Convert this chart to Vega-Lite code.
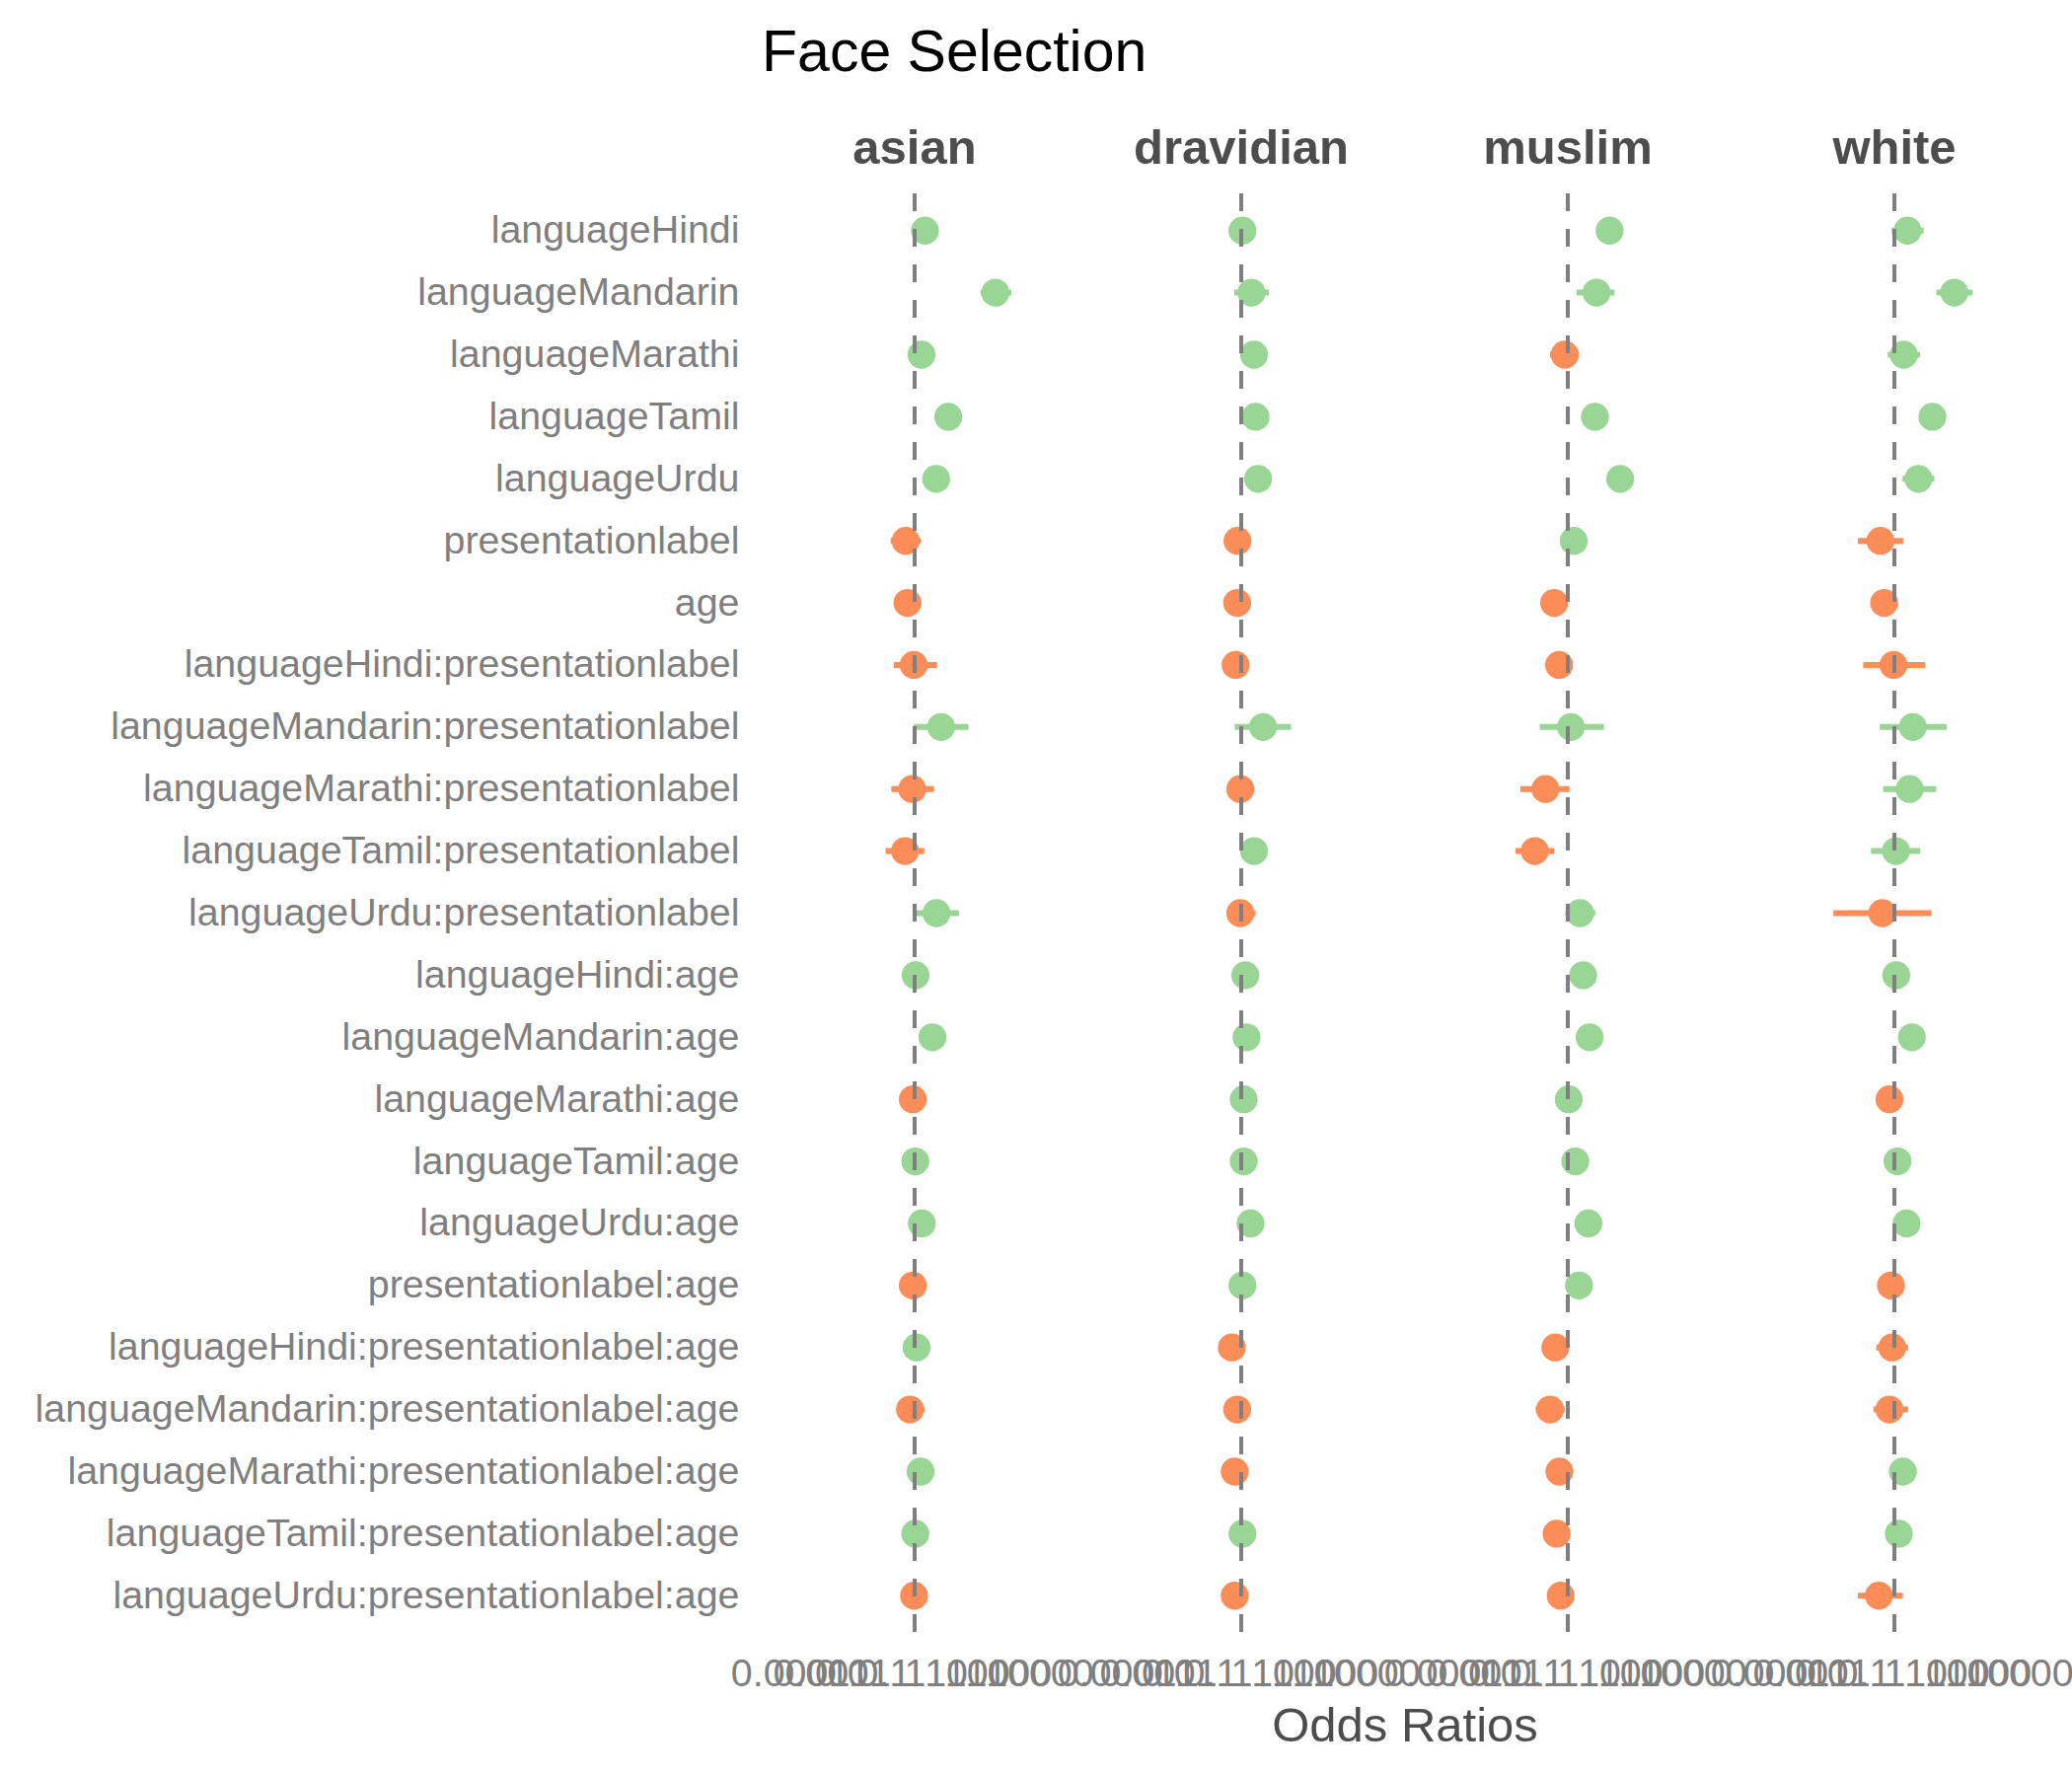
{
  "$schema": "https://vega.github.io/schema/vega-lite/v6.json",
  "background": "white",
  "padding": {"left": 35, "top": 25, "right": 0, "bottom": 0},
  "config": {"font": "Liberation Sans", "view": {"stroke": null}},
  "title": {"text": "Face Selection", "anchor": "start", "fontSize": 59, "fontWeight": "normal", "color": "#000000", "font": "Liberation Sans", "dx": 737, "offset": 43},
  "data": {"values": [
    {"g":"asian","term":"languageHindi","or":2.138,"lo":1.349,"hi":3.388},
    {"g":"asian","term":"languageMandarin","or":389.0,"lo":131.8,"hi":1259},
    {"g":"asian","term":"languageMarathi","or":1.660,"lo":1.047,"hi":2.630},
    {"g":"asian","term":"languageTamil","or":12.02,"lo":7.586,"hi":19.05},
    {"g":"asian","term":"languageUrdu","or":4.898,"lo":3.090,"hi":7.762},
    {"g":"asian","term":"presentationlabel","or":0.513,"lo":0.170,"hi":1.549},
    {"g":"asian","term":"age","or":0.589,"lo":0.372,"hi":0.933},
    {"g":"asian","term":"languageHindi:presentationlabel","or":0.933,"lo":0.214,"hi":5.248},
    {"g":"asian","term":"languageMandarin:presentationlabel","or":7.079,"lo":0.933,"hi":53.70},
    {"g":"asian","term":"languageMarathi:presentationlabel","or":0.832,"lo":0.178,"hi":4.169},
    {"g":"asian","term":"languageTamil:presentationlabel","or":0.490,"lo":0.117,"hi":2.042},
    {"g":"asian","term":"languageUrdu:presentationlabel","or":5.012,"lo":1.072,"hi":26.30},
    {"g":"asian","term":"languageHindi:age","or":1.072,"lo":0.676,"hi":1.698},
    {"g":"asian","term":"languageMandarin:age","or":3.715,"lo":2.344,"hi":5.888},
    {"g":"asian","term":"languageMarathi:age","or":0.871,"lo":0.550,"hi":1.380},
    {"g":"asian","term":"languageTamil:age","or":1.047,"lo":0.661,"hi":1.660},
    {"g":"asian","term":"languageUrdu:age","or":1.698,"lo":1.072,"hi":2.692},
    {"g":"asian","term":"presentationlabel:age","or":0.871,"lo":0.550,"hi":1.380},
    {"g":"asian","term":"languageHindi:presentationlabel:age","or":1.148,"lo":0.724,"hi":1.820},
    {"g":"asian","term":"languageMandarin:presentationlabel:age","or":0.708,"lo":0.295,"hi":2.089},
    {"g":"asian","term":"languageMarathi:presentationlabel:age","or":1.549,"lo":0.977,"hi":2.455},
    {"g":"asian","term":"languageTamil:presentationlabel:age","or":1.047,"lo":0.661,"hi":1.660},
    {"g":"asian","term":"languageUrdu:presentationlabel:age","or":0.955,"lo":0.603,"hi":1.514},

    {"g":"dravidian","term":"languageHindi","or":1.096,"lo":0.692,"hi":1.738},
    {"g":"dravidian","term":"languageMandarin","or":2.138,"lo":0.603,"hi":7.762},
    {"g":"dravidian","term":"languageMarathi","or":2.570,"lo":1.622,"hi":4.074},
    {"g":"dravidian","term":"languageTamil","or":2.884,"lo":1.820,"hi":4.571},
    {"g":"dravidian","term":"languageUrdu","or":3.467,"lo":2.188,"hi":5.495},
    {"g":"dravidian","term":"presentationlabel","or":0.759,"lo":0.479,"hi":1.202},
    {"g":"dravidian","term":"age","or":0.741,"lo":0.468,"hi":1.175},
    {"g":"dravidian","term":"languageHindi:presentationlabel","or":0.661,"lo":0.417,"hi":1.047},
    {"g":"dravidian","term":"languageMandarin:presentationlabel","or":5.012,"lo":0.617,"hi":39.81},
    {"g":"dravidian","term":"languageMarathi:presentationlabel","or":0.933,"lo":0.589,"hi":1.479},
    {"g":"dravidian","term":"languageTamil:presentationlabel","or":2.570,"lo":1.622,"hi":4.074},
    {"g":"dravidian","term":"languageUrdu:presentationlabel","or":0.933,"lo":0.347,"hi":2.884},
    {"g":"dravidian","term":"languageHindi:age","or":1.349,"lo":0.851,"hi":2.138},
    {"g":"dravidian","term":"languageMandarin:age","or":1.479,"lo":0.933,"hi":2.344},
    {"g":"dravidian","term":"languageMarathi:age","or":1.202,"lo":0.759,"hi":1.905},
    {"g":"dravidian","term":"languageTamil:age","or":1.202,"lo":0.759,"hi":1.905},
    {"g":"dravidian","term":"languageUrdu:age","or":1.995,"lo":1.259,"hi":3.162},
    {"g":"dravidian","term":"presentationlabel:age","or":1.096,"lo":0.692,"hi":1.738},
    {"g":"dravidian","term":"languageHindi:presentationlabel:age","or":0.501,"lo":0.316,"hi":0.794},
    {"g":"dravidian","term":"languageMandarin:presentationlabel:age","or":0.741,"lo":0.468,"hi":1.175},
    {"g":"dravidian","term":"languageMarathi:presentationlabel:age","or":0.617,"lo":0.389,"hi":0.977},
    {"g":"dravidian","term":"languageTamil:presentationlabel:age","or":1.096,"lo":0.692,"hi":1.738},
    {"g":"dravidian","term":"languageUrdu:presentationlabel:age","or":0.617,"lo":0.389,"hi":0.977},

    {"g":"muslim","term":"languageHindi","or":21.88,"lo":13.80,"hi":34.67},
    {"g":"muslim","term":"languageMandarin","or":8.318,"lo":1.905,"hi":31.62},
    {"g":"muslim","term":"languageMarathi","or":0.794,"lo":0.269,"hi":2.291},
    {"g":"muslim","term":"languageTamil","or":7.413,"lo":4.677,"hi":11.75},
    {"g":"muslim","term":"languageUrdu","or":47.86,"lo":30.20,"hi":75.86},
    {"g":"muslim","term":"presentationlabel","or":1.549,"lo":0.977,"hi":2.455},
    {"g":"muslim","term":"age","or":0.363,"lo":0.229,"hi":0.575},
    {"g":"muslim","term":"languageHindi:presentationlabel","or":0.525,"lo":0.331,"hi":0.832},
    {"g":"muslim","term":"languageMandarin:presentationlabel","or":1.259,"lo":0.126,"hi":14.45},
    {"g":"muslim","term":"languageMarathi:presentationlabel","or":0.191,"lo":0.0302,"hi":1.122},
    {"g":"muslim","term":"languageTamil:presentationlabel","or":0.0871,"lo":0.0209,"hi":0.363},
    {"g":"muslim","term":"languageUrdu:presentationlabel","or":2.455,"lo":0.832,"hi":7.586},
    {"g":"muslim","term":"languageHindi:age","or":3.090,"lo":1.950,"hi":4.898},
    {"g":"muslim","term":"languageMandarin:age","or":5.012,"lo":3.162,"hi":7.943},
    {"g":"muslim","term":"languageMarathi:age","or":1.072,"lo":0.676,"hi":1.698},
    {"g":"muslim","term":"languageTamil:age","or":1.738,"lo":1.096,"hi":2.754},
    {"g":"muslim","term":"languageUrdu:age","or":4.571,"lo":2.884,"hi":7.244},
    {"g":"muslim","term":"presentationlabel:age","or":2.291,"lo":1.445,"hi":3.631},
    {"g":"muslim","term":"languageHindi:presentationlabel:age","or":0.398,"lo":0.251,"hi":0.631},
    {"g":"muslim","term":"languageMandarin:presentationlabel:age","or":0.269,"lo":0.0933,"hi":0.794},
    {"g":"muslim","term":"languageMarathi:presentationlabel:age","or":0.537,"lo":0.339,"hi":0.851},
    {"g":"muslim","term":"languageTamil:presentationlabel:age","or":0.437,"lo":0.275,"hi":0.692},
    {"g":"muslim","term":"languageUrdu:presentationlabel:age","or":0.589,"lo":0.372,"hi":0.933},

    {"g":"white","term":"languageHindi","or":2.630,"lo":0.813,"hi":8.710},
    {"g":"white","term":"languageMandarin","or":83.18,"lo":22.39,"hi":316.2},
    {"g":"white","term":"languageMarathi","or":1.995,"lo":0.617,"hi":6.607},
    {"g":"white","term":"languageTamil","or":16.60,"lo":10.47,"hi":26.30},
    {"g":"white","term":"languageUrdu","or":5.888,"lo":1.820,"hi":19.05},
    {"g":"white","term":"presentationlabel","or":0.355,"lo":0.0676,"hi":1.905},
    {"g":"white","term":"age","or":0.468,"lo":0.295,"hi":0.741},
    {"g":"white","term":"languageHindi:presentationlabel","or":0.933,"lo":0.100,"hi":9.550},
    {"g":"white","term":"languageMandarin:presentationlabel","or":3.890,"lo":0.339,"hi":47.86},
    {"g":"white","term":"languageMarathi:presentationlabel","or":3.090,"lo":0.437,"hi":21.88},
    {"g":"white","term":"languageTamil:presentationlabel","or":1.122,"lo":0.178,"hi":6.761},
    {"g":"white","term":"languageUrdu:presentationlabel","or":0.407,"lo":0.011,"hi":15.49},
    {"g":"white","term":"languageHindi:age","or":1.148,"lo":0.724,"hi":1.820},
    {"g":"white","term":"languageMandarin:age","or":3.631,"lo":2.291,"hi":5.754},
    {"g":"white","term":"languageMarathi:age","or":0.692,"lo":0.437,"hi":1.096},
    {"g":"white","term":"languageTamil:age","or":1.259,"lo":0.794,"hi":1.995},
    {"g":"white","term":"languageUrdu:age","or":2.455,"lo":1.549,"hi":3.890},
    {"g":"white","term":"presentationlabel:age","or":0.776,"lo":0.490,"hi":1.230},
    {"g":"white","term":"languageHindi:presentationlabel:age","or":0.851,"lo":0.263,"hi":2.754},
    {"g":"white","term":"languageMandarin:presentationlabel:age","or":0.692,"lo":0.214,"hi":2.754},
    {"g":"white","term":"languageMarathi:presentationlabel:age","or":1.862,"lo":1.175,"hi":2.951},
    {"g":"white","term":"languageTamil:presentationlabel:age","or":1.380,"lo":0.871,"hi":2.188},
    {"g":"white","term":"languageUrdu:presentationlabel:age","or":0.316,"lo":0.0676,"hi":1.862}
  ]},
  "facet": {
    "column": {
      "field": "g", "type": "nominal",
      "sort": ["asian", "dravidian", "muslim", "white"],
      "header": {
        "title": "Odds Ratios", "titleOrient": "bottom", "labelOrient": "top",
        "labelFont": "Liberation Sans", "labelFontSize": 49, "labelFontWeight": "bold", "labelColor": "#4d4d4d", "labelPadding": 18,
        "titleFont": "Liberation Sans", "titleFontSize": 49, "titleFontWeight": "normal", "titleColor": "#4d4d4d", "titlePadding": 0
      }
    }
  },
  "spacing": 15,
  "spec": {
    "width": 316,
    "height": 1459,
    "encoding": {
      "y": {
        "field": "term", "type": "nominal",
        "sort": ["languageHindi","languageMandarin","languageMarathi","languageTamil","languageUrdu","presentationlabel","age","languageHindi:presentationlabel","languageMandarin:presentationlabel","languageMarathi:presentationlabel","languageTamil:presentationlabel","languageUrdu:presentationlabel","languageHindi:age","languageMandarin:age","languageMarathi:age","languageTamil:age","languageUrdu:age","presentationlabel:age","languageHindi:presentationlabel:age","languageMandarin:presentationlabel:age","languageMarathi:presentationlabel:age","languageTamil:presentationlabel:age","languageUrdu:presentationlabel:age"],
        "scale": {"type": "point", "padding": 0.6},
        "axis": {"title": null, "ticks": false, "domain": false, "grid": false, "labelFont": "Liberation Sans", "labelFontSize": 39.4, "labelColor": "#7f7f7f", "labelPadding": 20, "labelLimit": 0}
      }
    },
    "layer": [
      {
        "mark": {"type": "rule", "strokeWidth": 6},
        "encoding": {
          "x": {"field": "lo", "type": "quantitative", "scale": {"type": "log", "domain": [0.00001, 100000], "nice": false},
            "axis": {"values": [0.0001, 0.001, 0.01, 0.1, 1, 10, 100, 1000, 10000], "format": "~g", "labelOverlap": false, "labelFlush": false, "ticks": false, "domain": false, "grid": false, "title": null, "labelFont": "Liberation Sans", "labelFontSize": 39.4, "labelColor": "#7f7f7f", "labelPadding": 20}},
          "x2": {"field": "hi"},
          "color": {"condition": {"test": "datum.or > 1", "value": "#99d594"}, "value": "#fc8d59"}
        }
      },
      {
        "mark": {"type": "circle", "size": 800, "opacity": 1},
        "encoding": {
          "x": {"field": "or", "type": "quantitative"},
          "color": {"condition": {"test": "datum.or > 1", "value": "#99d594"}, "value": "#fc8d59"}
        }
      },
      {
        "transform": [{"aggregate": [{"op": "count", "as": "n"}], "groupby": ["g"]}],
        "mark": {"type": "rule", "strokeDash": [18, 18], "strokeWidth": 4, "color": "#7f7f7f"},
        "encoding": {"x": {"datum": 1}, "y": null}
      }
    ]
  }
}
